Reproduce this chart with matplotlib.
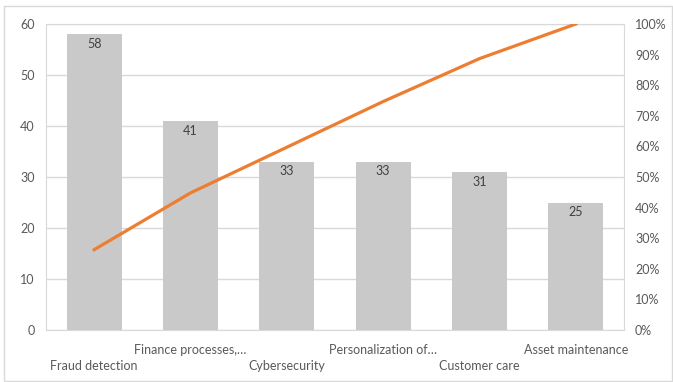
import matplotlib.pyplot as plt
from matplotlib.patches import Rectangle

categories = ["Fraud detection", "Finance processes,\u2026", "Cybersecurity",
              "Personalization of\u2026", "Customer care", "Asset maintenance"]
counts = [58, 41, 33, 33, 31, 25]

# running share of the total, in percent
total = sum(counts)
cum_pct = []
running = 0
for c in counts:
    running += c
    cum_pct.append(running / total * 100)

plt.rcParams['font.family'] = ['Lato', 'DejaVu Sans']
text_col = "#595959"
grid_col = "#d9d9d9"

fig = plt.figure(figsize=(6.73, 3.82), dpi=100)
fig.patches.append(Rectangle((0.006, 0.003), 0.992, 0.981, transform=fig.transFigure,
                             fill=False, edgecolor=grid_col, linewidth=1))

ax = fig.add_axes([46 / 673, 52 / 382, 578 / 673, 306 / 382])
x = list(range(len(categories)))
bars = ax.bar(x, counts, width=0.57, color="#c9c9c9", zorder=2)
ax.set_xlim(-0.5, len(categories) - 0.5)
ax.set_ylim(0, 60)
ax.set_yticks(range(0, 61, 10))
ax.grid(axis="y", color=grid_col, linewidth=1, zorder=0)
for s in ax.spines.values():
    s.set_color(grid_col)
ax.tick_params(axis="both", length=0, colors=text_col, labelsize=9)
ax.tick_params(axis="y", pad=8)
ax.set_xticks([])

for b, v in zip(bars, counts):
    ax.annotate(str(v), (b.get_x() + b.get_width() / 2, v), xytext=(0, -7),
                textcoords="offset points", ha="center", va="center",
                fontsize=9, color="#404040", zorder=3)

# staggered category labels
for i, name in enumerate(categories):
    dy = -26 if i % 2 == 0 else -14.5
    ax.annotate(name, (i, 0), xytext=(0, dy), textcoords="offset points",
                ha="center", va="center", fontsize=9, color=text_col,
                annotation_clip=False)

ax2 = ax.twinx()
ax2.plot(x, cum_pct, color="#ed7d31", linewidth=2.3, zorder=4)
ax2.set_ylim(0, 100)
ax2.set_yticks(range(0, 101, 10))
ax2.set_yticklabels([f"{t}%" for t in range(0, 101, 10)])
ax2.tick_params(axis="y", length=0, colors=text_col, labelsize=9, pad=8)
for s in ax2.spines.values():
    s.set_visible(False)

fig.savefig("out.png", dpi=100)
